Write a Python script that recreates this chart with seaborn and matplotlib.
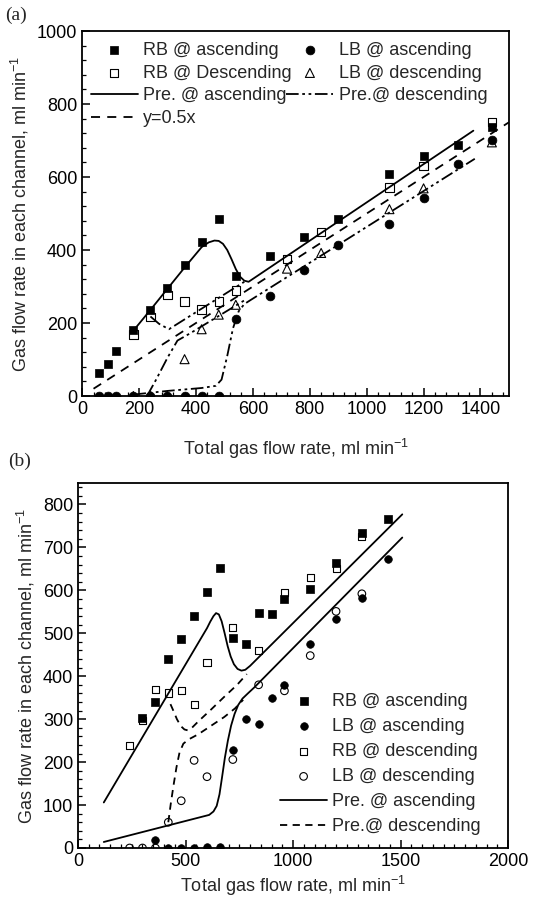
import numpy as np
import pandas as pd
import matplotlib
matplotlib.use("Agg")
import matplotlib.pyplot as plt
import seaborn as sns
from matplotlib.ticker import MultipleLocator

# ---------------- panel (a) measurements ----------------
xa_asc = [60, 90, 120, 180, 240, 300, 360, 420, 480, 540, 660, 780, 900, 1080, 1200, 1320, 1440]
rb_asc_a = [62, 88, 122, 180, 237, 297, 358, 423, 484, 328, 384, 436, 486, 608, 658, 688, 738]
lb_asc_a = [0, 0, 0, 0, 0, 0, 0, 0, 0, 212, 275, 345, 415, 471, 543, 636, 702]
xa_desc = [180, 240, 300, 360, 420, 480, 540, 720, 840, 1080, 1200, 1440]
rb_desc_a = [169, 217, 277, 259, 237, 259, 289, 375, 450, 571, 631, 750]
lb_desc_a = [0, 0, 0, 101, 183, 223, 250, 349, 392, 512, 569, 695]

# predictions (a)
pa_rb_asc_x = [180, 240, 300, 360, 420, 445, 465, 480, 495, 510, 525, 540, 555, 570, 585, 1375]
pa_rb_asc_y = [179, 236, 294, 352, 408, 421, 426, 425, 417, 400, 375, 348, 327, 316, 313, 727]
pa_lb_asc_x = [180, 300, 420, 470, 490, 510, 530, 550, 570, 590, 1380]
pa_lb_asc_y = [4, 14, 22, 28, 45, 110, 185, 232, 252, 262, 650]
pa_rb_desc_x = [240, 270, 305, 570]
pa_rb_desc_y = [218, 198, 183, 313]
pa_lb_desc_x = [228, 260, 300, 335, 380, 570]
pa_lb_desc_y = [0, 45, 105, 152, 172, 262]
half_x = [40, 1500]

# ---------------- panel (b) measurements ----------------
xb_rb_asc = [300, 360, 420, 480, 540, 600, 660, 720, 780, 840, 900, 960, 1080, 1200, 1320, 1440]
rb_asc_b = [303, 340, 440, 486, 540, 595, 653, 490, 476, 548, 545, 579, 603, 664, 734, 765]
xb_lb_asc = [360, 420, 480, 540, 600, 660, 720, 780, 840, 900, 960, 1080, 1200, 1320, 1440]
lb_asc_b = [18, 0, 0, 0, 2, 2, 229, 300, 288, 350, 380, 474, 533, 583, 674]
xb_desc = [240, 300, 360, 420, 480, 540, 600, 720, 840, 960, 1080, 1200, 1320]
rb_desc_b = [238, 297, 370, 361, 366, 334, 432, 513, 460, 594, 630, 650, 726]
lb_desc_b = [0, 0, 0, 60, 110, 204, 166, 206, 380, 366, 448, 551, 592]

# predictions (b)
pb_rb_asc_x = [120, 600, 615, 630, 642, 655, 668, 682, 696, 710, 725, 742, 760, 778, 800, 1508]
pb_rb_asc_y = [106, 512, 527, 540, 547, 544, 528, 500, 470, 446, 428, 417, 413, 415, 424, 777]
pb_lb_asc_x = [120, 610, 630, 645, 658, 670, 683, 697, 712, 728, 745, 765, 790, 820, 1508]
pb_lb_asc_y = [14, 77, 85, 98, 125, 165, 210, 250, 285, 312, 333, 348, 360, 374, 723]
pb_rb_desc_x = [430, 445, 460, 478, 495, 510, 530, 560, 620, 680, 740, 785]
pb_rb_desc_y = [335, 318, 300, 284, 276, 274, 280, 295, 323, 352, 380, 405]
pb_lb_desc_x = [420, 432, 445, 458, 472, 490, 515, 560, 620, 680, 730, 768]
pb_lb_desc_y = [60, 105, 148, 188, 222, 243, 253, 265, 285, 305, 325, 345]

sns.set_style("ticks")
plt.rcParams["font.family"] = ["Liberation Sans", "DejaVu Sans"]
plt.rcParams["mathtext.fontset"] = "custom"
plt.rcParams["mathtext.rm"] = "Liberation Sans"
plt.rcParams["mathtext.default"] = "regular"
plt.rcParams["font.size"] = 13
plt.rcParams["axes.edgecolor"] = "black"
plt.rcParams["axes.linewidth"] = 1.3

DASHDOT = (0, (7, 2, 1.5, 2, 1.5, 2))


def pts(ax, x, y, marker, filled, label=None, s=32):
    if filled:
        sns.scatterplot(x=x, y=y, ax=ax, marker=marker, color="black", edgecolor="black",
                        s=s, linewidth=0.5, label=label, zorder=3)
    else:
        sns.scatterplot(x=x, y=y, ax=ax, marker=marker, facecolor="none", edgecolor="black",
                        s=s, linewidth=0.8, label=label, zorder=3)


def line(ax, x, y, ls, label=None, lw=1.3):
    sns.lineplot(x=x, y=y, ax=ax, color="black", linestyle=ls, linewidth=lw,
                 estimator=None, sort=False, label=label)


def style_axes(ax):
    ax.tick_params(which="both", direction="in", top=False, right=False, colors="black")
    ax.tick_params(which="major", length=6, width=1.1)
    ax.tick_params(which="minor", length=3, width=0.9)
    for s in ax.spines.values():
        s.set_visible(True)
        s.set_color("black")


fig = plt.figure(figsize=(5.55, 9.05), dpi=100)

# ---------------- (a) ----------------
ax1 = fig.add_axes([0.148, 0.5624, 0.769, 0.4033])
pts(ax1, xa_asc, rb_asc_a, "s", True, "RB @ ascending", s=36)
pts(ax1, xa_asc, lb_asc_a, "o", True, "LB @ ascending", s=40)
pts(ax1, xa_desc, rb_desc_a, "s", False, "RB @ Descending", s=36)
pts(ax1, xa_desc, lb_desc_a, "^", False, "LB @ descending", s=42)
line(ax1, pa_rb_asc_x, pa_rb_asc_y, "-", "Pre. @ ascending")
line(ax1, pa_rb_desc_x, pa_rb_desc_y, DASHDOT, "Pre.@ descending")
line(ax1, pa_lb_asc_x, pa_lb_asc_y, DASHDOT)
line(ax1, pa_lb_desc_x, pa_lb_desc_y, DASHDOT)
line(ax1, half_x, [0.5 * v for v in half_x], (0, (5, 4)), "y=0.5x")

ax1.set_xlim(0, 1500)
ax1.set_ylim(0, 1000)
ax1.xaxis.set_major_locator(MultipleLocator(200))
ax1.xaxis.set_minor_locator(MultipleLocator(40))
ax1.yaxis.set_major_locator(MultipleLocator(200))
ax1.yaxis.set_minor_locator(MultipleLocator(40))
style_axes(ax1)
ax1.set_xlabel("Total gas flow rate, ml min$^{-1}$", labelpad=14)
ax1.set_ylabel("Gas flow rate in each channel, ml min$^{-1}$", labelpad=4)

h, l = ax1.get_legend_handles_labels()
order = ["RB @ ascending", "RB @ Descending", "Pre. @ ascending", "y=0.5x",
         "LB @ ascending", "LB @ descending", "Pre.@ descending"]
hd = dict(zip(l, h))
ax1.legend([hd[k] for k in order], order, ncol=2, loc="upper left",
           bbox_to_anchor=(-0.005, 1.0), frameon=False, handlelength=2.6,
           handletextpad=0.3, columnspacing=-0.3, labelspacing=0.32,
           borderaxespad=0.2, fontsize=13)

fig.text(0.01, 0.978, "(a)", family="Liberation Serif", fontsize=14)

# ---------------- (b) ----------------
ax2 = fig.add_axes([0.1405, 0.063, 0.775, 0.4033])
pts(ax2, xb_rb_asc, rb_asc_b, "s", True, "RB @ ascending", s=26)
pts(ax2, xb_lb_asc, lb_asc_b, "o", True, "LB @ ascending", s=30)
pts(ax2, xb_desc, rb_desc_b, "s", False, "RB @ descending", s=26)
pts(ax2, xb_desc, lb_desc_b, "o", False, "LB @ descending", s=30)
line(ax2, pb_rb_asc_x, pb_rb_asc_y, "-", "Pre. @ ascending")
line(ax2, pb_lb_asc_x, pb_lb_asc_y, "-")
line(ax2, pb_rb_desc_x, pb_rb_desc_y, (0, (4, 3)), "Pre.@ descending")
line(ax2, pb_lb_desc_x, pb_lb_desc_y, (0, (4, 3)))

ax2.set_xlim(0, 2000)
ax2.set_ylim(0, 850)
ax2.xaxis.set_major_locator(MultipleLocator(500))
ax2.xaxis.set_minor_locator(MultipleLocator(50))
ax2.yaxis.set_major_locator(MultipleLocator(100))
ax2.yaxis.set_minor_locator(MultipleLocator(20))
style_axes(ax2)
ax2.set_xlabel("Total gas flow rate, ml min$^{-1}$", labelpad=3)
ax2.set_ylabel("Gas flow rate in each channel, ml min$^{-1}$", labelpad=4)

h, l = ax2.get_legend_handles_labels()
order_b = ["RB @ ascending", "LB @ ascending", "RB @ descending", "LB @ descending",
           "Pre. @ ascending", "Pre.@ descending"]
hd = dict(zip(l, h))
ax2.legend([hd[k] for k in order_b], order_b, loc="lower right",
           bbox_to_anchor=(0.975, -0.01), frameon=False, handlelength=2.6,
           handletextpad=0.3, labelspacing=0.45, fontsize=13)

fig.text(0.015, 0.485, "(b)", family="Liberation Serif", fontsize=14)

fig.savefig("out.png", dpi=100)
